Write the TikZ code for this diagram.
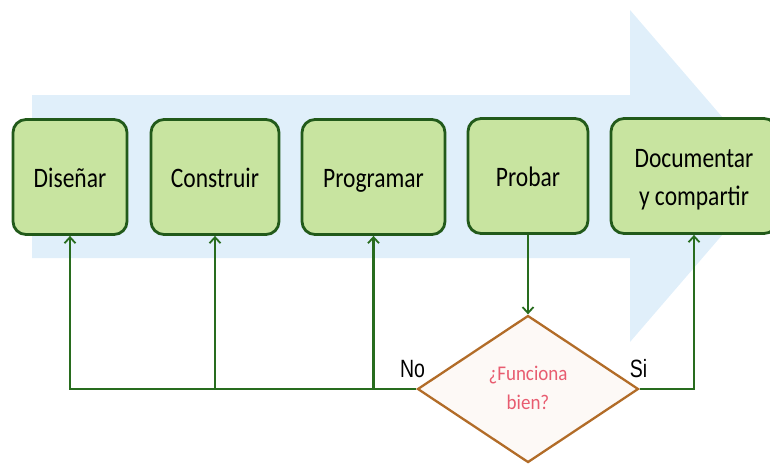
\documentclass[tikz,border=0pt]{standalone}
\usepackage{fontspec}
\setmainfont{Carlito}
\newfontfamily\arialfont{Liberation Sans}
\usetikzlibrary{shapes.geometric,arrows.meta}
\definecolor{boxfill}{RGB}{200,228,160}
\definecolor{boxdraw}{RGB}{34,90,26}
\definecolor{arrowfill}{RGB}{224,239,250}
\definecolor{conncol}{RGB}{40,108,30}
\definecolor{diafill}{RGB}{253,249,246}
\definecolor{diadraw}{RGB}{178,108,40}
\definecolor{diatext}{RGB}{232,92,112}
\newcommand{\talltext}[2]{\raisebox{-3pt}[\height][\depth]{\scalebox{1}[#1]{\begin{tabular}{@{}c@{}}#2\end{tabular}}}}
\tikzset{
  stepbox/.style={draw=boxdraw, fill=boxfill, line width=2.8pt, rounded corners=13pt,
    minimum height=115pt, inner sep=0pt, align=center,
    font=\fontsize{23.5}{31}\selectfont},
  conn/.style={draw=conncol, line width=2.3pt},
  connarrow/.style={conn, -{Straight Barb[length=6pt,width=11pt,line width=1.8pt]}},
  lbl/.style={inner sep=0pt, font=\arialfont\fontsize{25}{25}\selectfont}
}
\begin{document}
\begin{tikzpicture}[x=1pt,y=-1pt]
\useasboundingbox (0,0) rectangle (770,464);
\begin{scope}
\clip (0,0) rectangle (770,464);
\fill[arrowfill] (32,95) -- (630,95) -- (630,10) -- (773,176) -- (630,342) -- (630,258) -- (32,258) -- cycle;
\node[stepbox, minimum width=114pt] (d1) at (70,177) {\talltext{1.2}{Diseñar}};
\node[stepbox, minimum width=128pt] (d2) at (215,177) {\talltext{1.2}{Construir}};
\node[stepbox, minimum width=143pt] (d3) at (373.5,177) {\talltext{1.2}{Programar}};
\node[stepbox, minimum width=120pt] (d4) at (528,176) {\talltext{1.2}{Probar}};
\node[stepbox, minimum width=166pt] (d5) at (694,176) {\talltext{1.2}{Documentar\\y compartir}};
\end{scope}
\node[diamond, draw=diadraw, fill=diafill, line width=2.3pt, inner sep=0pt, aspect=1.5,
  minimum width=221pt, minimum height=147pt, align=center, text=diatext,
  font=\fontsize{19}{27}\selectfont] (q) at (528,389) {\scalebox{1}[1.1]{\begin{tabular}{@{}c@{}}¿Funciona\\bien?\end{tabular}}};
\node[lbl] (no) at (412.5,369) {\scalebox{0.78}[1]{No}};
\node[lbl] (si) at (638.5,369) {\scalebox{0.78}[1]{Si}};
\draw[connarrow] (d4.south) -- (q.north);
\draw[connarrow] (q.west) -| (d1.south);
\draw[connarrow] (d2.south |- q.west) -- (d2.south);
\draw[connarrow] (d3.south |- q.west) -- (d3.south);
\draw[connarrow] (q.east) -| (d5.south);
\end{tikzpicture}
\end{document}
